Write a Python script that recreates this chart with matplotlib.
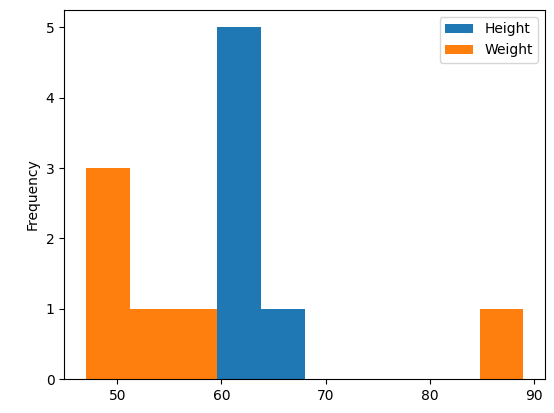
import matplotlib
matplotlib.use("Agg")
import matplotlib.pyplot as plt
import pandas as pd

# Raw values
height = [60, 61, 62, 62.5, 63, 66]
weight = [47, 49, 50, 53, 57, 89]

df = pd.DataFrame({"Height": height, "Weight": weight})

fig, ax = plt.subplots(figsize=(5.54, 4.13), dpi=100)
df.plot.hist(ax=ax)
fig.subplots_adjust(left=0.116, right=0.984, top=0.976, bottom=0.082)
fig.savefig("out.png")
